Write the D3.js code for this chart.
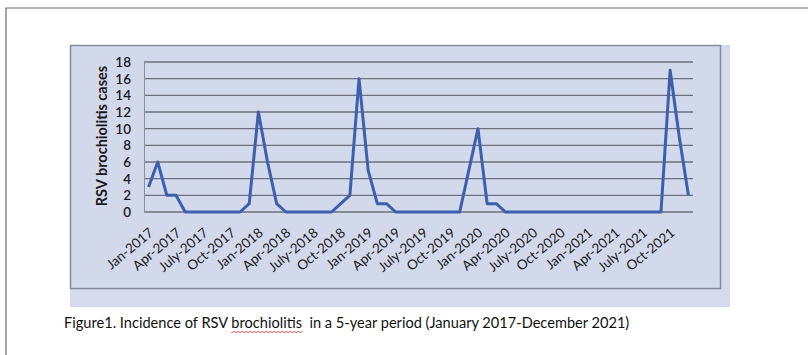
<!DOCTYPE html>
<html><head><meta charset="utf-8">
<script src="https://cdn.jsdelivr.net/npm/d3@7"></script>
<style>body{margin:0;background:#fff}svg{display:block}text{white-space:pre}</style>
</head><body>
<svg id="c" width="808" height="355"></svg>
<script>
const months = ["Jan","Feb","Mar","Apr","May","Jun","Jul","Aug","Sep","Oct","Nov","Dec"];
const years = [2017,2018,2019,2020,2021];
const categories = [];
years.forEach(y => months.forEach(m => categories.push(m + "-" + y)));
const cases = [
  3,6,2,2,0,0,0,0,0,0,0,1,
  12,6,1,0,0,0,0,0,0,1,2,16,
  5,1,1,0,0,0,0,0,0,0,0,5,
  10,1,1,0,0,0,0,0,0,0,0,0,
  0,0,0,0,0,0,0,0,0,17,9,2
];
const tickLabels = ["Jan-2017","Apr-2017","July-2017","Oct-2017","Jan-2018","Apr-2018","July-2018","Oct-2018","Jan-2019","Apr-2019","July-2019","Oct-2019","Jan-2020","Apr-2020","July-2020","Oct-2020","Jan-2021","Apr-2021","July-2021","Oct-2021"];
const yTicks = [0,2,4,6,8,10,12,14,16,18];
const yTitle = "RSV brochiolitis cases";
const caption = "Figure1. Incidence of RSV brochiolitis  in a 5-year period (January 2017-December 2021)";

const svg = d3.select("#c");
const font = "Lato, 'Open Sans', sans-serif";

// outer page frame
svg.append("path").attr("d","M6,355V8H808").attr("fill","none").attr("stroke","#6a6a6a").attr("stroke-width",1.2);

// chart area
svg.append("rect").attr("x",70).attr("y",45).attr("width",660).attr("height",262).attr("fill","#d5dbed");
svg.append("rect").attr("x",70.5).attr("y",45.5).attr("width",650).attr("height",243).attr("fill","#d2d9eb").attr("stroke","#848c9c").attr("stroke-width",1.5);

const x = d3.scaleBand().domain(categories).range([144,693]);
const y = d3.scaleLinear().domain([0,18]).range([212,62]);

// gridlines
svg.append("g").selectAll("line").data(yTicks).join("line")
  .attr("x1",144).attr("x2",693).attr("y1",d=>y(d)).attr("y2",d=>y(d))
  .attr("stroke","#6c717c").attr("stroke-width",1.3);
svg.append("line").attr("x1",144.5).attr("x2",144.5).attr("y1",y(18)).attr("y2",y(0)).attr("stroke","#8a909c").attr("stroke-width",1);

// y axis labels
svg.append("g").selectAll("text").data(yTicks).join("text")
  .attr("x",131).attr("y",d=>y(d)).attr("dy","0.36em").attr("text-anchor","end")
  .attr("font-family",font).attr("font-size",13.5).attr("font-weight",600).attr("fill","#1a1a1a").text(d=>d);

// y title
svg.append("text").attr("transform","translate(107,136) rotate(-90)").attr("text-anchor","middle")
  .attr("font-family",font).attr("font-size",14.5).attr("font-weight",700).attr("fill","#1a1a1a").text(yTitle);

// x labels
svg.append("g").selectAll("text").data(tickLabels).join("text")
  .attr("transform",d=>`translate(${x(d.replace("July","Jul"))+x.bandwidth()/2+3},231) rotate(-40)`)
  .attr("text-anchor","end").attr("dy","0.3em")
  .attr("font-family",font).attr("font-size",13.5).attr("fill","#1a1a1a").text(d=>d);

// line
const line = d3.line().x((d,i)=>x(categories[i])+x.bandwidth()/2).y(d=>y(d));
svg.append("path").datum(cases).attr("d",line).attr("fill","none")
  .attr("stroke","#3c5fae").attr("stroke-width",3).attr("stroke-linejoin","round");

// caption
const capSize = 14.6;
svg.append("text").attr("x",64).attr("y",328)
  .attr("font-family",font).attr("font-size",capSize).attr("fill","#111").text(caption);
// spell-check squiggle under "brochiolitis"
const pre = "Figure1. Incidence of RSV ";
const tmp = svg.append("text").attr("font-family",font).attr("font-size",capSize).text(pre);
const w0 = tmp.node().getComputedTextLength(); tmp.text("brochiolitis");
const w1 = tmp.node().getComputedTextLength(); tmp.remove();
let d = `M${64+w0},332`;
for (let xx = 64+w0; xx < 64+w0+w1; xx += 2) d += `L${xx+1},${(Math.round((xx-64-w0)/2)%2)?331:333}`;
svg.append("path").attr("d",d).attr("fill","none").attr("stroke","#d02020").attr("stroke-width",0.8);
</script>
</body></html>
